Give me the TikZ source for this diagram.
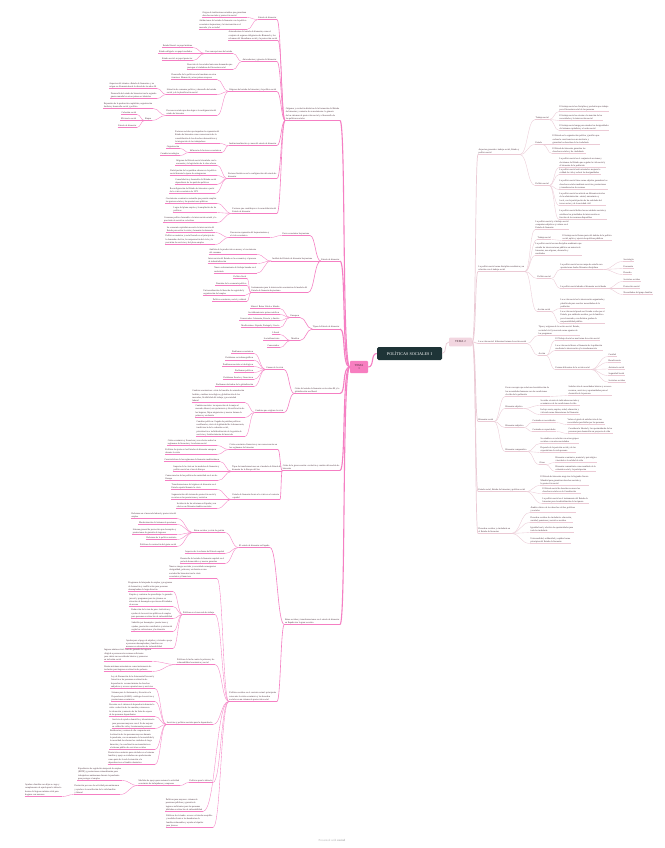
\documentclass[tikz,border=0pt]{standalone}
\usepackage{fontspec}
\setmainfont{Liberation Serif}
\usepackage{tikz}
\usetikzlibrary{calc}
\definecolor{pk}{HTML}{F57FC3}
\definecolor{rs}{HTML}{EBCAD5}
\definecolor{ink}{HTML}{4A2E3A}
\definecolor{deep}{HTML}{1E3437}
\definecolor{tonefill}{HTML}{F77EC0}
\definecolor{ttwofill}{HTML}{F2D6E0}
\begin{document}
\begin{tikzpicture}[x=1pt,y=-1pt,
  txt/.style={font=\fontsize{2.3}{3.3}\selectfont,inner sep=.5pt,align=left,text=ink},
  lnode/.style={txt,anchor=south east,append after command={(\tikzlastnode.south west) edge[draw=pk,line width=.3pt] (\tikzlastnode.south east)}},
  rnode/.style={txt,anchor=south west,append after command={(\tikzlastnode.south west) edge[draw=rs,line width=.3pt] (\tikzlastnode.south east)}},
  twig/.style={to path={.. controls ($(\tikztostart)!.5!(\tikztotarget |- \tikztostart)$) and ($(\tikztotarget)!.5!(\tikztostart |- \tikztotarget)$) .. (\tikztotarget)}},
  lk1/.style={pk,line width=1.1pt},
  lk2/.style={pk,line width=.6pt,twig},
  lk3/.style={pk,line width=.35pt,twig},
  rk1/.style={rs,line width=.7pt},
  rk2/.style={rs,line width=.35pt,twig}]
 \fill[white] (0,0) rectangle (664,848);
 \useasboundingbox (0,0) rectangle (664,848);
 \node[fill=deep,rounded corners=1.5pt,minimum width=65pt,minimum height=13pt,text=white,font=\fontsize{4.2}{4.2}\selectfont] (c) at (409.5,353.5) {POLÍTICAS SOCIALES I};
 \node[fill=tonefill,rounded corners=1pt,minimum width=18pt,minimum height=12pt,align=center,text=ink,font=\fontsize{3}{3.4}\selectfont] (t1) at (359,367) {TEMA\\1};
 \node[fill=ttwofill,rounded corners=1pt,minimum width=23pt,minimum height=8pt,text=ink,font=\fontsize{3}{3.4}\selectfont] (t2) at (460.5,342) {TEMA 2};
 \draw[lk1] (c.west) to[out=180,in=0] (t1.east);
 \draw[rk1] (c.east) to[out=0,in=180] (t2.west);
 \node[font=\fontsize{3}{3}\selectfont,text=black!30] (wm) at (332,840) {Presented with \textbf{xmind}};
 % tema 1
 \node[lnode] (a1) at (340,120.5) {Orígenes y evolución histórica de la formación del Estado\\de bienestar y contexto de su nacimiento: la génesis\\de los sistemas de protección social y el desarrollo de\\las políticas sociales};
 \node[lnode] (a2) at (340,261) {Estado de bienestar};
 \node[lnode] (a3) at (340,329) {Tipos de Estado de bienestar};
 \node[lnode] (a4) at (340,393.5) {Crisis del estado de bienestar en los años 80 y la\\globalización neoliberal};
 \node[lnode] (a5) at (340,470.5) {Crisis de la gran recesión: evolución y cambio del modelo de\\bienestar};
 \node[lnode] (a6) at (340,624.5) {Retos sociales y transformaciones en el estado de bienestar\\en España tras la gran recesión};
 \foreach \p in {a1,a2,a3,a4,a5,a6}
  \draw[lk1] (t1.west) .. controls +(-8,0) and +(6,0) .. (\p.south east);

 \node[lnode] (b1) at (277,19.5) {Estado de bienestar};
 \node[lnode] (b2) at (278,40.5) {Antecedentes del estado de bienestar, como el\\conjunto de seguros obligatorios de Bismarck y las\\reformas del liberalismo social y la protección social};
 \node[lnode] (b3) at (277,61.5) {Antecedentes y génesis del bienestar};
 \node[lnode] (b4) at (277,91.5) {Orígenes del estado de bienestar y la política social};
 \node[lnode] (b5) at (277,145.5) {Institucionalización y causa del estado de bienestar};
 \node[lnode] (b6) at (277,178.5) {Factores históricos en la configuración del estado de\\bienestar};
 \node[lnode] (b7) at (277,213.5) {Factores que contribuyen a la consolidación del\\Estado de bienestar};
 \foreach \p in {b1,b2,b3,b4,b5,b6,b7}
  \draw[lk2] (a1.south west) to (\p.south east);
 \foreach \y/\t [count=\i] in {17.5/{Origen de instituciones estatales que garantizan\\derechos sociales y protección social},
   29.5/{Atribuciones del estado de bienestar con la política\\económica keynesiana y la intervención en el\\mercado y la sociedad}}{
  \node[lnode] (b1\i) at (247,\y) {\t};
  \draw[lk3] (b1.south west) to (b1\i.south east);}
 \node[lnode] (c1) at (233,53.5) {Tres concepciones del estado};
 \node[lnode] (c2) at (233,69.5) {Reacción de la sociedad ante unas demandas que\\protegen al ciudadano del bienestar social};
 \foreach \p in {c1,c2} \draw[lk3] (b3.south west) to (\p.south east);
 \foreach \y/\t [count=\i] in {47.5/{Estado liberal: su papel mínimo},53.5/{Estado obligado: su papel mediador},60.5/{Estado social: su papel protector}}{
  \node[lnode] (c1\i) at (193,\y) {\t};
  \draw[lk3] (c1.south west) to (c1\i.south east);}
 \node[lnode] (d1) at (217,79.5) {Desarrollo de la política social moderna en estos\\términos: Bismarck y otros países europeos};
 \node[lnode] (d2) at (217,94.5) {Situación de consenso político y desarrollo del estado\\social y de la planificación social};
 \node[lnode] (d3) at (217,115.5) {Procesos sociales que dan lugar a la configuración del\\estado de bienestar};
 \foreach \p in {d1,d2,d3} \draw[lk3] (b4.south west) to (\p.south east);
 \foreach \y/\t [count=\i] in {88.5/{Aspectos del término «Estado de bienestar» y su\\origen en Alemania desde la década de los años 30},
   98.5/{Desarrollo del estado de bienestar tras la segunda\\guerra mundial en otros países occidentales}}{
  \node[lnode] (d2\i) at (157,\y) {\t};
  \draw[lk3] (d2.south west) to (d2\i.south east);}
 \node[lnode] (d31) at (153,108.5) {Expansión de la producción capitalista, organización\\fordista y desarrollo social y político};
 \node[lnode] (d32) at (152,120.5) {Etapas};
 \foreach \p in {d31,d32} \draw[lk3] (d3.south west) to (\p.south east);
 \foreach \y/\t [count=\i] in {114.5/{Cohesión social},120.5/{Eficiencia social},127.5/{Estado de bienestar}}{
  \node[lnode] (e\i) at (137,\y) {\t};
  \draw[lk3] (d32.south west) to (e\i.south east);}
 \node[lnode] (f1) at (220,143.5) {Factores sociales que impulsan la expansión del\\Estado de bienestar como consecuencia de la\\consolidación de los derechos democráticos y\\la integración de los trabajadores};
 \node[lnode] (f2) at (222,152.5) {Influencia de factores económicos};
 \foreach \p in {f1,f2} \draw[lk3] (b5.south west) to (\p.south east);
 \foreach \y/\t [count=\i] in {148.5/{Organización},155.5/{Cambio tecnológico}}{
  \node[lnode] (f2\i) at (180,\y) {\t};
  \draw[lk3] (f2.south west) to (f2\i.south east);}
 \foreach \x/\y/\t [count=\i] in {217/165.5/{Orígenes del Estado social vinculado con la\\economía y la legislación de la clase obrera},
   217/175.5/{Participación de los partidos obreros en la política\\social durante la época de entreguerras},
   217/184.5/{Consolidación y desarrollo del Estado social\\dependiente de los partidos políticos},
   215/193.5/{Reconfiguración del Estado de bienestar a partir\\de la crisis económica de 1973}}{
  \node[lnode] (b6\i) at (\x,\y) {\t};
  \draw[lk3] (b6.south west) to (b6\i.south east);}
 \foreach \y/\t [count=\i] in {203.5/{Crecimiento económico sostenido que permite ampliar\\los gastos sociales y las prestaciones públicas},
   212.5/{Logro del pleno empleo y la ampliación de las\\políticas},
   222.5/{Consenso político favorable a la intervención estatal y la\\provisión de servicios colectivos}}{
  \node[lnode] (b7\i) at (217,\y) {\t};
  \draw[lk3] (b7.south west) to (b7\i.south east);}

 \node[lnode] (g1) at (310,235.5) {Pacto económico keynesiano};
 \node[lnode] (g2) at (313,261) {Análisis del Estado de bienestar keynesiano};
 \node[lnode] (g3) at (308,292.5) {Instrumentos para la intervención económica del modelo del\\Estado de bienestar keynesiano};
 \foreach \p in {g1,g2,g3} \draw[lk2] (a2.south west) to (\p.south east);
 \node[lnode] (g11) at (270,237.5) {Una nueva expansión del keynesianismo y\\el ciclo económico};
 \draw[lk3] (g1.south west) to (g11.south east);
 \foreach \y/\t [count=\i] in {232.5/{La economía capitalista necesita la intervención del\\Estado para evitar la crisis y fomentar la demanda},
   244.5/{Política económica y social basada en el principio de\\la demanda efectiva, la compensación del ciclo y la\\provisión de servicios y del pleno empleo}}{
  \node[lnode] (h\i) at (215,\y) {\t};
  \draw[lk3] (g11.south west) to (h\i.south east);}
 \foreach \y/\t [count=\i] in {254.5/{Análisis de la producción en masa y el crecimiento\\del consumo},
   263.5/{Intervención del Estado en la economía y el proceso\\de industrialización},
   273/{Nuevo reforzamiento del trabajo basado en el\\asalariado}}{
  \node[lnode] (g2\i) at (257,\y) {\t};
  \draw[lk3] (g2.south west) to (g2\i.south east);}
 \foreach \x/\y/\t [count=\i] in {247/278.5/{Política fiscal},247/285.5/{Dominio de la economía política},
   245/295.5/{Universalización del derecho de seguridad y\\organización del empleo},247/301.5/{Política económica, social y cultural}}{
  \node[lnode] (g3\i) at (\x,\y) {\t};
  \draw[lk3] (g3.south west) to (g3\i.south east);}

 \node[lnode] (k1) at (300,317.5) {Europeos};
 \node[lnode] (k2) at (300,340.5) {Modelos};
 \foreach \p in {k1,k2} \draw[lk2] (a3.south west) to (\p.south east);
 \foreach \y/\t [count=\i] in {308.5/{Liberal: Reino Unido e Irlanda},314.5/{Socialdemócrata: países nórdicos},
   320.5/{Conservador: Alemania, Francia y Austria},327.5/{Mediterráneo: España, Portugal y Grecia}}{
  \node[lnode] (k1\i) at (280,\y) {\t};
  \draw[lk3] (k1.south west) to (k1\i.south east);}
 \foreach \y/\t [count=\i] in {334.5/{Liberal},340.5/{Socialdemócrata},347.5/{Conservador}}{
  \node[lnode] (k2\i) at (280,\y) {\t};
  \draw[lk3] (k2.south west) to (k2\i.south east);}

 \node[lnode] (m1) at (284,369.5) {Causas de la crisis};
 \node[lnode] (m2) at (284,412.5) {Cambios que originan la crisis};
 \foreach \p in {m1,m2} \draw[lk2] (a4.south west) to (\p.south east);
 \foreach \y/\t [count=\i] in {353.5/{Problemas económicos},360/{Problemas sociodemográficos},366.5/{Problemas sociales e ideológicos},
   372.5/{Problemas políticos},379.5/{Problemas fiscales y financieros},386.5/{Problemas derivados de la globalización}}{
  \node[lnode] (m1\i) at (254,\y) {\t};
  \draw[lk3] (m1.south west) to (m1\i.south east);}
 \foreach \y/\t [count=\i] in {402.5/{Cambios económicos: crisis del modelo de acumulación\\fordista, cambios tecnológicos, globalización de los\\mercados, flexibilidad del trabajo y precariedad\\laboral},
   417.5/{Cambios sociales: incorporación de la mujer al\\mercado laboral, envejecimiento y diversificación de\\los hogares, flujos migratorios y nuevas formas de\\pobreza y exclusión},
   436.5/{Cambios políticos: llegada de partidos políticos\\neoliberales, crisis de legitimidad de la democracia,\\insuficiencia de la cohesión social,\\privatización e individualización de la gestión de\\servicios y fortalecimiento del mercado}}{
  \node[lnode] (m2\i) at (245,\y) {\t};
  \draw[lk3] (m2.south west) to (m2\i.south east);}

 \node[lnode] (n1) at (278,449.5) {Crisis económico-financiera y sus consecuencias en\\los regímenes de bienestar};
 \node[lnode] (n2) at (282,471.5) {Tipos de transformaciones en el modelo de Estado de\\bienestar de la Europa del Sur};
 \node[lnode] (n3) at (280,499.5) {Estado de bienestar frente a la crisis en el contexto\\español};
 \foreach \p in {n1,n2,n3} \draw[lk2] (a5.south west) to (\p.south east);
 \foreach \y/\t [count=\i] in {445.5/{Crisis económica y financiera y sus efectos sobre los\\regímenes de bienestar y la reforma social},
   454.5/{Políticas de ajuste en los Estados de bienestar europeos\\durante la crisis}}{
  \node[lnode] (n1\i) at (217,\y) {\t};
  \draw[lk3] (n1.south west) to (n1\i.south east);}
 \foreach \x/\y/\t [count=\i] in {220/461.5/{Características de los regímenes de bienestar mediterráneos},
   220/471.5/{Impacto de la crisis en los modelos de bienestar y\\política social en el sur de Europa},
   218/480.5/{Consecuencias de las políticas de austeridad en el sur de\\Europa}}{
  \node[lnode] (n2\i) at (\x,\y) {\t};
  \draw[lk3] (n2.south west) to (n2\i.south east);}
 \foreach \y/\t [count=\i] in {489.5/{Transformaciones del régimen de bienestar en el\\Estado español durante la crisis},
   499.5/{Segmentación del sistema de protección social y\\recortes en las prestaciones y servicios},
   508.5/{Incidencia de las reformas en España y sus\\efectos en diferentes ámbitos sociales}}{
  \node[lnode] (n3\i) at (217,\y) {\t};
  \draw[lk3] (n3.south west) to (n3\i.south east);}

 \node[lnode] (q1) at (270,547.5) {El estado de bienestar en España};
 \node[lnode] (q2) at (277,701.5) {Políticas sociales en el contexto actual: principales\\retos ante la crisis económica y los derechos\\sociales en un sistema de protección social};
 \foreach \p in {q1,q2} \draw[lk2] (a6.south west) to (\p.south east);
 \node[lnode] (q11) at (225,532.5) {Retos sociales y crisis de gestión};
 \node[lnode] (q12) at (225,553.5) {Aspectos de la reforma del Estado español};
 \node[lnode] (q13) at (225,563.5) {Desarrollo del estado de bienestar español en el\\período democrático y nuevas garantías};
 \foreach \p in {q11,q12,q13} \draw[lk3] (q1.south west) to (\p.south east);
 \foreach \y/\t [count=\i] in {518.5/{Reformas en el mercado laboral y protección del\\empleo},524.5/{Modernización del sistema de pensiones},
   534.5/{Sistema general de protección por desempleo y\\prestaciones de garantía de ingresos},
   539.5/{Reformas de la política sanitaria},546.5/{Políticas de contención del gasto social}}{
  \node[lnode] (q11\i) at (177,\y) {\t};
  \draw[lk3] (q11.south west) to (q11\i.south east);}
 \node[lnode] (s1) at (217,578.5) {Nuevos riesgos sociales y necesidades emergentes:\\desigualdad, pobreza y exclusión en una\\sociedad de bienestar tras la crisis\\económica y financiera};
 \node[lnode] (s2) at (215,614.5) {Políticas en el mercado de trabajo};
 \node[lnode] (s3) at (215,664.5) {Políticas de lucha contra la pobreza y de\\vulnerabilidad económica y social};
 \node[lnode] (s4) at (213,724.5) {Servicios y políticas sociales para la dependencia};
 \node[lnode] (s5) at (213,782.5) {Políticas para la infancia};
 \node[lnode] (s6) at (203,811.5) {Políticas para mayores: sistema de\\pensiones públicas y garantía de\\ingresos suficientes para las personas\\jubiladas en situación de vulnerabilidad};
 \node[lnode] (s7) at (213,827.5) {Políticas de vivienda: acceso a vivienda asequible\\y medidas frente a los desahucios de\\familias vulnerables y ayudas al alquiler\\para jóvenes};
 \foreach \p in {s1,s2,s3,s4,s5,s6,s7} \draw[lk3] (q2.south west) to (\p.south east);
 \foreach \y/\t [count=\i] in {591.5/{Programas de búsqueda de empleo y programas\\de formación y cualificación para personas\\desempleadas de larga duración},
   606.5/{Empleo y contratos de aprendizaje: la garantía\\juvenil y programas para los jóvenes en\\situación de desempleo que tienen dificultades\\de acceso},
   618.5/{Reducción de la tasa de paro: iniciativas y\\ayudas de los servicios públicos de empleo\\para personas en situación de vulnerabilidad},
   631.5/{Subsidio por desempleo: prestaciones y\\ayudas, prestación contributiva y asistencial\\según las cotizaciones y la situación},
   648.5/{Ayudas para el pago de alquiler y vivienda: apoyo\\a personas desempleadas y familias con\\menores en situación de vulnerabilidad}}{
  \node[lnode] (s2\i) at (173,\y) {\t};
  \draw[lk3] (s2.south west) to (s2\i.south east);}
 \foreach \y/\t [count=\i] in {661.5/{Ingreso mínimo vital: renta de garantía de ingresos\\dirigida a personas sin recursos suficientes\\para cubrir sus necesidades básicas y promover\\su inclusión social},
   671.5/{Rentas mínimas autonómicas como instrumento de\\inclusión para hogares en situación de pobreza}}{
  \node[lnode] (s3\i) at (152,\y) {\t};
  \draw[lk3] (s3.south west) to (s3\i.south east);}
 \foreach \y/\t [count=\i] in {688.5/{Ley de Promoción de la Autonomía Personal y\\Atención a las personas en situación de\\dependencia: reconocimiento de derechos\\subjetivos y acceso a prestaciones y servicios},
   701.5/{Sistema para la Autonomía y Atención a la\\Dependencia (SAAD): catálogo de servicios y\\prestaciones económicas},
   716.5/{Recortes en el sistema de dependencia durante la\\crisis: reducción de las cuantías, retrasos en\\la valoración y aumento de las listas de espera\\de las personas dependientes},
   728.5/{Servicio de ayuda a domicilio y teleasistencia\\para personas mayores con el fin de mejorar\\su calidad de vida y la autonomía personal},
   749.5/{Residencias y centros de día: respuesta ante\\la situación de las personas mayores durante\\la pandemia, con un aumento de la mortalidad y\\la necesidad de reforzar los cuidados de larga\\duración y la coordinación sociosanitaria en\\el sistema público de servicios sociales},
   764.5/{Prestación económica para cuidados en el entorno\\familiar y apoyo a cuidadores no profesionales\\como parte de la red de atención a la\\dependencia en el ámbito doméstico}}{
  \node[lnode] (s4\i) at (155,\y) {\t};
  \draw[lk3] (s4.south west) to (s4\i.south east);}
 \node[lnode] (s51) at (180,785.5) {Medidas de apoyo para sostener la actividad\\económica de trabajadores y empresas};
 \draw[lk3] (s5.south west) to (s51.south east);
 \node[lnode] (s511) at (122,780.5) {Expedientes de regulación temporal de empleo\\(ERTE) y prestaciones extraordinarias para\\trabajadores autónomos durante la pandemia\\para proteger el empleo};
 \node[lnode] (s512) at (120,794.5) {Prestación por cese de actividad para autónomos\\y ayudas a la conciliación de la vida familiar\\y laboral};
 \foreach \p in {s511,s512} \draw[lk3] (s51.south west) to (\p.south east);
 \node[lnode] (s5121) at (62,796.5) {Ayudas a familias con hijos a cargo y\\complemento de ayuda para la infancia\\dentro del ingreso mínimo vital para\\hogares con menores};
 \draw[lk3] (s512.south west) to (s5121.south east);

 % tema 2
 \node[rnode] (r1) at (478,154.5) {Aspectos generales: trabajo social, Estado y\\política social};
 \node[rnode] (r2) at (478,271.5) {La política social como disciplina académica y su\\relación con el trabajo social};
 \node[rnode] (r3) at (478,343.5) {La acción social: diferentes formas de acción social};
 \node[rnode] (r4) at (478,421.5) {Bienestar social};
 \node[rnode] (r5) at (478,491.5) {Estado social, Estado de bienestar y política social};
 \node[rnode] (r6) at (478,533.5) {Derechos sociales y ciudadanía en\\el Estado de bienestar};
 \foreach \p in {r1,r2,r3,r4,r5,r6}
  \draw[rk1] (t2.east) .. controls +(4,0) and +(-3,0) .. (\p.south west);

 \node[rnode] (v1) at (535,119.5) {Trabajo social};
 \node[rnode] (v2) at (535,144.5) {Estado};
 \node[rnode] (v3) at (535,185.5) {Política social};
 \foreach \p in {v1,v2,v3} \draw[rk2] (r1.south east) to (\p.south west);
 \foreach \y/\t [count=\i] in {111.5/{El trabajo social es disciplina y profesión que trabaja\\por el bienestar social de las personas},
   120.5/{El trabajo social se orienta a la atención de las\\necesidades y la intervención social},
   130.5/{El trabajo social surge para atender las desigualdades\\del sistema capitalista y el orden social}}{
  \node[rnode] (v1\i) at (559,\y) {\t};
  \draw[rk2] (v1.south east) to (v1\i.south west);}
 \foreach \y/\t [count=\i] in {144.5/{El Estado es la organización política y jurídica que\\ordena la convivencia en un territorio y\\garantiza los derechos de la ciudadanía},
   153.5/{El Estado de bienestar garantiza los\\derechos sociales y de ciudadanía}}{
  \node[rnode] (v2\i) at (552,\y) {\t};
  \draw[rk2] (v2.south east) to (v2\i.south west);}
 \foreach \y/\t [count=\i] in {167.5/{La política social es el conjunto de acciones y\\decisiones del Estado que regulan la vida social y\\el bienestar de la población},
   174.5/{La política social está orientada a mejorar la\\calidad de vida y reducir las desigualdades},
   189.5/{La política social tiene como objetivo garantizar los\\derechos sociales mediante servicios, prestaciones\\y transferencias de recursos},
   205.5/{La política social se articula en diferentes niveles\\de la administración: estatal, autonómico y\\local, con la participación de las entidades del\\tercer sector y de la sociedad civil},
   219.5/{La política social define las necesidades sociales y\\establece las prioridades de intervención en\\función de los recursos disponibles}}{
  \node[rnode] (v3\i) at (559,\y) {\t};
  \draw[rk2] (v3.south east) to (v3\i.south west);}

 \node[rnode] (w1) at (535,229.5) {La política social y el trabajo social\\comparten objetivos y valores en el\\Estado de bienestar};
 \node[rnode] (w2) at (537,239.5) {Trabajo social};
 \node[rnode] (w3) at (535,255.5) {La política social es una disciplina académica que\\estudia las intervenciones públicas en materia de\\bienestar, sus orígenes, desarrollo y\\resultados};
 \node[rnode] (w4) at (537,278.5) {Política social};
 \node[rnode] (w5) at (537,311.5) {Acción social};
 \foreach \p in {w1,w2,w3,w4,w5} \draw[rk2] (r2.south east) to (\p.south west);
 \node[rnode] (w21) at (562,240.5) {El trabajo social forma parte del ámbito de la política\\social, aplica y ejecuta las políticas públicas};
 \draw[rk2] (w2.south east) to (w21.south west);
 \node[rnode] (w41) at (560,269.5) {La política social es un campo de estudio con\\aportaciones desde diferentes disciplinas};
 \node[rnode] (w42) at (560,288.5) {La política social aborda el bienestar social desde};
 \foreach \p in {w41,w42} \draw[rk2] (w4.south east) to (\p.south west);
 \foreach \y/\t [count=\i] in {261.5/{Sociología},268.5/{Economía},274.5/{Derecho}}{
  \node[rnode] (w41\i) at (623,\y) {\t};
  \draw[rk2] (w41.south east) to (w41\i.south west);}
 \foreach \y/\t [count=\i] in {281.5/{Servicios sociales},288.5/{Protección social},294.5/{Necesidades del grupo familiar}}{
  \node[rnode] (w42\i) at (623,\y) {\t};
  \draw[rk2] (w42.south east) to (w42\i.south west);}
 \foreach \y/\t [count=\i] in {308.5/{La acción social es la intervención organizada y\\planificada para resolver necesidades de la\\población},
   323.5/{La acción social puede ser llevada a cabo por el\\Estado, por entidades sociales, por la familia o\\por el mercado, con distintos grados de\\responsabilidad pública}}{
  \node[rnode] (w5\i) at (560,\y) {\t};
  \draw[rk2] (w5.south east) to (w5\i.south west);}

 \node[rnode] (x1) at (538,335.5) {Tipos y orígenes de la acción social: Estado,\\sociedad civil y mercado como agentes de\\los programas};
 \node[rnode] (x2) at (538,355.5) {Acción};
 \foreach \p in {x1,x2} \draw[rk2] (r3.south east) to (\p.south west);
 \node[rnode] (x21) at (555,340.5) {El Trabajo Social es una forma de acción social};
 \node[rnode] (x22) at (555,350.5) {La acción social busca el bienestar de la población\\mediante la intervención y la transformación};
 \node[rnode] (x23) at (555,369.5) {Formas diferentes de la acción social};
 \foreach \p in {x21,x22,x23} \draw[rk2] (x2.south east) to (\p.south west);
 \foreach \y/\t [count=\i] in {356.5/{Caridad},362.5/{Beneficencia},369/{Asistencia social},375.5/{Seguridad Social},382/{Servicios sociales}}{
  \node[rnode] (x23\i) at (608,\y) {\t};
  \draw[rk2] (x23.south east) to (x23\i.south west);}

 \node[rnode] (y1) at (505,396.5) {Es un concepto que relaciona la satisfacción de\\las necesidades humanas con las condiciones\\de vida de la población};
 \node[rnode] (y2) at (505,408.5) {Bienestar objetivo};
 \node[rnode] (y3) at (505,427.5) {Bienestar subjetivo};
 \node[rnode] (y4) at (505,451.5) {Bienestar comparativo};
 \foreach \p in {y1,y2,y3,y4} \draw[rk2] (r4.south east) to (\p.south west);
 \node[rnode] (y11) at (568,395.5) {Satisfacción de necesidades básicas y acceso a\\recursos, servicios y oportunidades para el\\desarrollo de la persona};
 \draw[rk2] (y1.south east) to (y11.south west);
 \foreach \y/\t [count=\i] in {405.5/{Se mide a través de indicadores sociales y\\económicos de las condiciones de vida},
   414.5/{Incluye renta, empleo, salud, educación y\\vivienda como dimensiones del bienestar}}{
  \node[rnode] (y2\i) at (540,\y) {\t};
  \draw[rk2] (y2.south east) to (y2\i.south west);}
 \node[rnode] (y31) at (532,422.5) {Centrado en necesidades};
 \node[rnode] (y32) at (532,431.5) {Centrado en capacidades};
 \foreach \p in {y31,y32} \draw[rk2] (y3.south east) to (\p.south west);
 \node[rnode] (y311) at (567,424.5) {Valora el grado de satisfacción de las\\necesidades percibidas por las personas};
 \node[rnode] (y321) at (568,433.5) {Considera la libertad y las oportunidades de las\\personas para desarrollar su proyecto de vida};
 \draw[rk2] (y31.south east) to (y311.south west);
 \draw[rk2] (y32.south east) to (y321.south west);
 \node[rnode] (y41) at (540,443.5) {Se establece en relación con otros grupos\\sociales o con otras sociedades};
 \node[rnode] (y42) at (540,452.5) {Depende de la posición social y de las\\expectativas de cada persona};
 \node[rnode] (y43) at (539,464.5) {Otros};
 \foreach \p in {y41,y42,y43} \draw[rk2] (y4.south east) to (\p.south west);
 \foreach \y/\t [count=\i] in {462.5/{Bienestar económico, material y psicológico\\vinculado a la calidad de vida},
   471.5/{Bienestar comunitario como resultado de la\\cohesión social y la participación}}{
  \node[rnode] (y43\i) at (555,\y) {\t};
  \draw[rk2] (y43.south east) to (y43\i.south west);}

 \foreach \x/\y/\t [count=\i] in {540/485.5/{El Estado de bienestar surge tras la Segunda Guerra\\Mundial para garantizar derechos sociales y\\la protección social},
   542/493.5/{El Estado social de derecho reconoce los\\derechos sociales en la Constitución},
   542/503.5/{La política social es el instrumento del Estado de\\bienestar para la redistribución de la riqueza}}{
  \node[rnode] (z\i) at (\x,\y) {\t};
  \draw[rk2] (r5.south east) to (z\i.south west);}
 \foreach \y/\t [count=\i] in {512.5/{Ámbito clásico de los derechos civiles, políticos\\y sociales},
   522.5/{Derechos sociales de ciudadanía: educación,\\sanidad, pensiones y servicios sociales},
   532.5/{Igualdad real y efectiva de oportunidades para\\toda la ciudadanía},
   543.5/{Universalidad, solidaridad y equidad como\\principios del Estado de bienestar}}{
  \node[rnode] (r6\i) at (530,\y) {\t};
  \draw[rk2] (r6.south east) to (r6\i.south west);}
\end{tikzpicture}
\end{document}
